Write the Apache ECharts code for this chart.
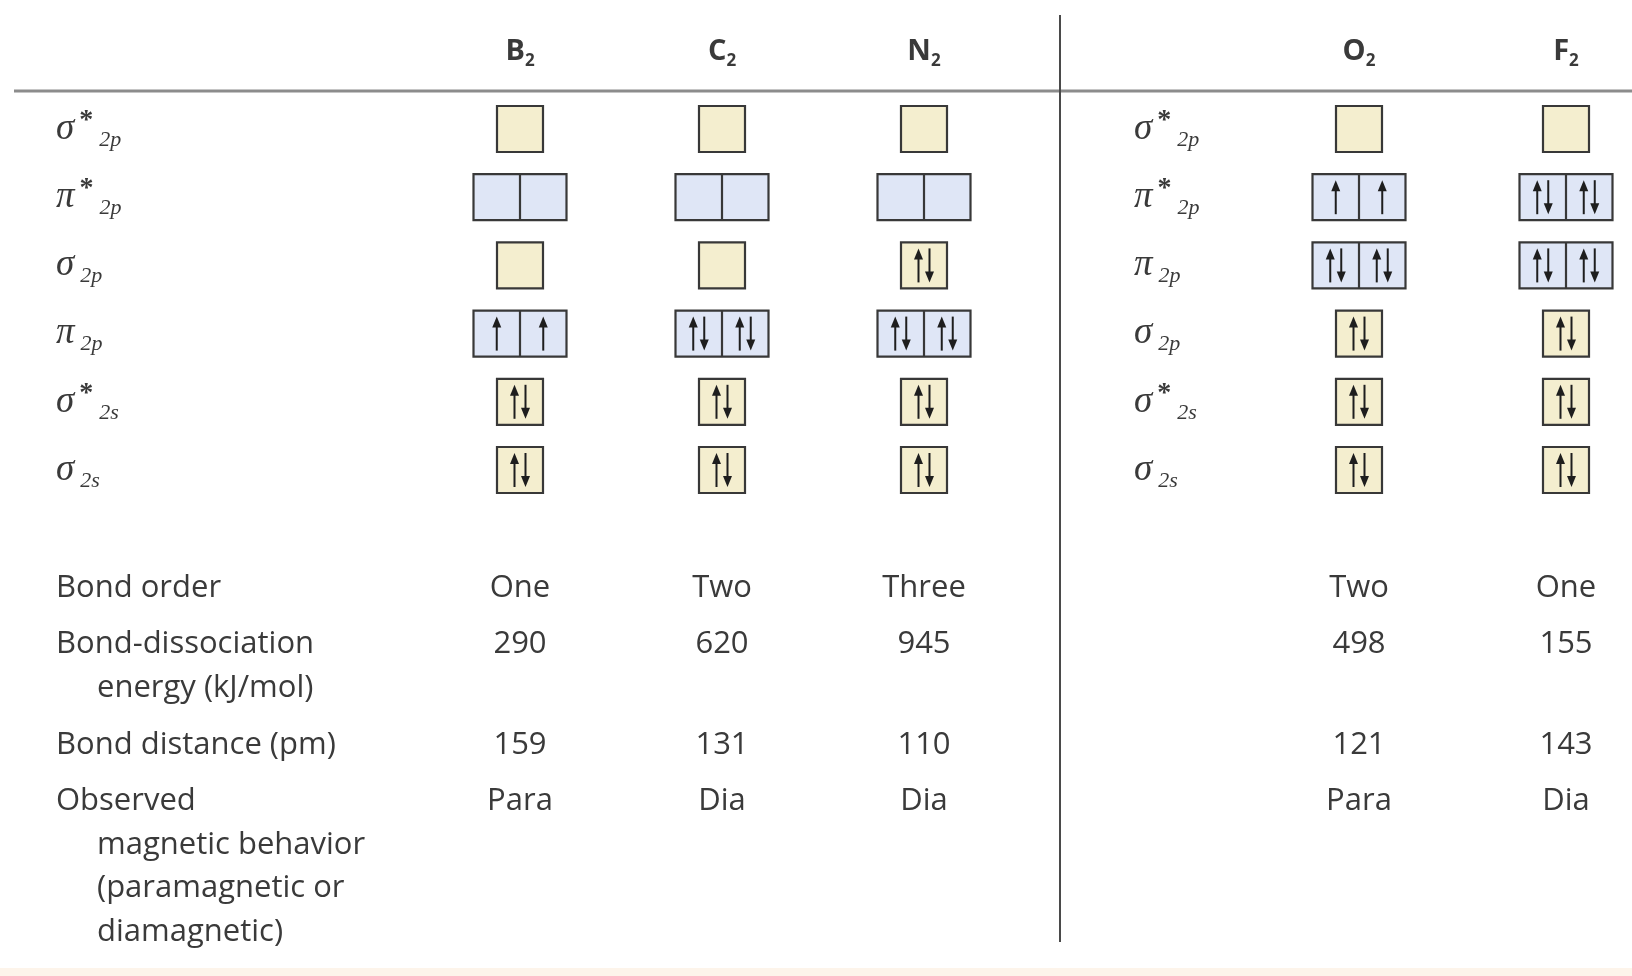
<!DOCTYPE html>
<html><head><meta charset="utf-8">
<script src="https://cdn.jsdelivr.net/npm/echarts@6/dist/echarts.min.js"></script>
<style>html,body{margin:0;padding:0;background:#fff}#c{width:1632px;height:976px}</style>
</head><body><div id="c"></div>
<script>
// ---------- data ----------
const moleculesLeft = ['B2', 'C2', 'N2'];
const moleculesRight = ['O2', 'F2'];
const orbitalsLeft = ['σ*2p', 'π*2p', 'σ2p', 'π2p', 'σ*2s', 'σ2s'];
const orbitalsRight = ['σ*2p', 'π*2p', 'π2p', 'σ2p', 'σ*2s', 'σ2s'];
const degeneracyLeft = [1, 2, 1, 2, 1, 1];
const degeneracyRight = [1, 2, 2, 1, 1, 1];
// electrons per orbital level, in the row order above
const electronsB2 = [0, 0, 0, 2, 2, 2];
const electronsC2 = [0, 0, 0, 4, 2, 2];
const electronsN2 = [0, 0, 2, 4, 2, 2];
const electronsO2 = [0, 2, 4, 2, 2, 2];
const electronsF2 = [0, 4, 4, 2, 2, 2];
const propertyLabels = [
  ['Bond order'],
  ['Bond-dissociation', 'energy (kJ/mol)'],
  ['Bond distance (pm)'],
  ['Observed', 'magnetic behavior', '(paramagnetic or', 'diamagnetic)']
];
const bondOrderLeft = ['One', 'Two', 'Three'];
const bondOrderRight = ['Two', 'One'];
const energyLeft = [290, 620, 945];
const energyRight = [498, 155];
const distanceLeft = [159, 131, 110];
const distanceRight = [121, 143];
const magnetismLeft = ['Para', 'Dia', 'Dia'];
const magnetismRight = ['Para', 'Dia'];

// ---------- build ----------
const TXT = '#3a3a3a';
const BODY_FONT = '31px "Open Sans"';
const LINE_GAP = 0.3;
const propStarts = [];
(function () { let acc = 0; propertyLabels.forEach(l => { propStarts.push(acc); acc += l.length + LINE_GAP; }); })();
const propMax = propStarts[propStarts.length - 1] + propertyLabels[propertyLabels.length - 1].length - 1;

function boxData(arrays, deg) {
  const out = [];
  arrays.forEach((arr, m) => arr.forEach((e, o) => out.push([m, o, e, deg[o]])));
  return out;
}
function valueData(cols) {
  const pts = [], texts = [];
  cols.forEach((col, k) => col.forEach((v, m) => { pts.push([m, propStarts[k]]); texts.push(String(v)); }));
  return { pts, texts };
}
const valsL = valueData([bondOrderLeft, energyLeft, distanceLeft, magnetismLeft]);
const valsR = valueData([bondOrderRight, energyRight, distanceRight, magnetismRight]);
const labelPts = [], labelTexts = [], labelIndent = [];
propertyLabels.forEach((lines, k) => lines.forEach((t, i) => {
  labelPts.push([0, propStarts[k] + i]); labelTexts.push(t); labelIndent.push(i > 0 ? 1 : 0);
}));

function arrow(children, cx, top, bottom, up) {
  const st = { stroke: '#1e1e1e', lineWidth: 2 };
  if (up) {
    children.push({ type: 'line', shape: { x1: cx, y1: top + 8, x2: cx, y2: bottom }, style: st });
    children.push({ type: 'polygon', shape: { points: [[cx, top], [cx - 4.5, top + 11], [cx + 4.5, top + 11]] }, style: { fill: '#1e1e1e' } });
  } else {
    children.push({ type: 'line', shape: { x1: cx, y1: top, x2: cx, y2: bottom - 8 }, style: st });
    children.push({ type: 'polygon', shape: { points: [[cx, bottom], [cx - 4.5, bottom - 11], [cx + 4.5, bottom - 11]] }, style: { fill: '#1e1e1e' } });
  }
}
function renderOrbital(params, api) {
  const m = api.value(0), o = api.value(1), e = api.value(2), n = api.value(3);
  const c = api.coord([m, o]);
  const cw = n === 1 ? 46 : 46.5, h = 46;
  const w = cw * n, x0 = c[0] - w / 2, y0 = c[1] - h / 2;
  const fill = n === 1 ? '#f4eecf' : '#dfe6f6';
  const children = [{ type: 'rect', shape: { x: x0, y: y0, width: w, height: h }, style: { fill, stroke: '#383838', lineWidth: 2.2 } }];
  for (let i = 1; i < n; i++) children.push({ type: 'line', shape: { x1: x0 + cw * i, y1: y0, x2: x0 + cw * i, y2: y0 + h }, style: { stroke: '#383838', lineWidth: 2.2 } });
  for (let i = 0; i < n; i++) {
    const upE = e > i, downE = e > n + i;
    const cx = x0 + cw * i + cw / 2, top = y0 + 6, bottom = y0 + h - 6;
    if (upE && downE) { arrow(children, cx - 5.5, top, bottom, true); arrow(children, cx + 5.5, top, bottom, false); }
    else if (upE) arrow(children, cx, top, bottom, true);
  }
  return { type: 'group', children };
}
function textRenderer(texts, offsets, indents) {
  return function (params, api) {
    const c = api.coord([api.value(0), api.value(1)]);
    const i = params.dataIndex;
    const x = offsets ? c[0] - offsets.base + (indents[i] ? offsets.indent : 0) : c[0];
    return { type: 'text', style: { text: texts[i], x, y: c[1], fill: TXT, font: BODY_FONT, align: offsets ? 'left' : 'center', verticalAlign: 'middle' } };
  };
}
function orbitalLabel(v) {
  const g = v[0], star = v.indexOf('*') >= 0, sub = v.slice(star ? 2 : 1);
  return star ? `{g|${g}}{st|*}{sb|${sub}}` : `{g|${g}}{sb0|${sub}}`;
}
const orbRich = {
  g: { fontFamily: 'Liberation Serif', fontStyle: 'italic', fontSize: 37, lineHeight: 44, verticalAlign: 'middle', color: TXT },
  st: { fontFamily: 'Liberation Serif', fontWeight: 'bold', fontSize: 28, lineHeight: 26, verticalAlign: 'top', color: TXT, padding: [0, 0, 0, 5] },
  sb: { fontFamily: 'Liberation Serif', fontStyle: 'italic', fontSize: 22, lineHeight: 21, verticalAlign: 'bottom', color: TXT, padding: [0, 0, 0, 6] },
  sb0: { fontFamily: 'Liberation Serif', fontStyle: 'italic', fontSize: 22, lineHeight: 21, verticalAlign: 'bottom', color: TXT, padding: [0, 0, 0, 6] }
};
const headRich = {
  e: { fontFamily: 'Open Sans', fontWeight: 'bold', fontSize: 29, lineHeight: 36, verticalAlign: 'middle', color: TXT },
  s: { fontFamily: 'Open Sans', fontWeight: 'bold', fontSize: 17, lineHeight: 17, verticalAlign: 'bottom', color: TXT }
};
const hidden = { axisLine: { show: false }, axisTick: { show: false }, splitLine: { show: false } };

const ORB_TOP = 129, ORB_H = 341, PROP_TOP = 588, PROP_H = 344;
const L_LEFT = 520, L_W = 404, R_LEFT = 1359, R_W = 207;

const option = {
  animation: false,
  backgroundColor: '#ffffff',
  grid: [
    { left: L_LEFT, width: L_W, top: ORB_TOP, height: ORB_H, outerBoundsMode: 'none' },
    { left: R_LEFT, width: R_W, top: ORB_TOP, height: ORB_H, outerBoundsMode: 'none' },
    { left: L_LEFT, width: L_W, top: PROP_TOP, height: PROP_H, outerBoundsMode: 'none' },
    { left: R_LEFT, width: R_W, top: PROP_TOP, height: PROP_H, outerBoundsMode: 'none' }
  ],
  xAxis: [
    Object.assign({ gridIndex: 0, type: 'category', data: moleculesLeft, boundaryGap: false, position: 'top',
      axisLabel: { margin: 77, verticalAlign: 'middle', formatter: v => `{e|${v[0]}}{s|${v.slice(1)}}`, rich: headRich } }, hidden),
    Object.assign({ gridIndex: 1, type: 'category', data: moleculesRight, boundaryGap: false, position: 'top',
      axisLabel: { margin: 77, verticalAlign: 'middle', formatter: v => `{e|${v[0]}}{s|${v.slice(1)}}`, rich: headRich } }, hidden),
    Object.assign({ gridIndex: 2, type: 'category', data: moleculesLeft, boundaryGap: false, axisLabel: { show: false } }, hidden),
    Object.assign({ gridIndex: 3, type: 'category', data: moleculesRight, boundaryGap: false, axisLabel: { show: false } }, hidden)
  ],
  yAxis: [
    Object.assign({ gridIndex: 0, type: 'category', data: orbitalsLeft, inverse: true, boundaryGap: false,
      axisLabel: { margin: L_LEFT - 56, align: 'left', formatter: orbitalLabel, rich: orbRich } }, hidden),
    Object.assign({ gridIndex: 1, type: 'category', data: orbitalsRight, inverse: true, boundaryGap: false,
      axisLabel: { margin: R_LEFT - 1134, align: 'left', formatter: orbitalLabel, rich: orbRich } }, hidden),
    Object.assign({ gridIndex: 2, type: 'value', min: 0, max: propMax, inverse: true, axisLabel: { show: false } }, hidden),
    Object.assign({ gridIndex: 3, type: 'value', min: 0, max: propMax, inverse: true, axisLabel: { show: false } }, hidden)
  ],
  graphic: [
    { type: 'line', shape: { x1: 14, y1: 91, x2: 1632, y2: 91 }, style: { stroke: '#8c8c8c', lineWidth: 3 } },
    { type: 'line', shape: { x1: 1060, y1: 15, x2: 1060, y2: 942 }, style: { stroke: '#4a4a4a', lineWidth: 2 } },
    { type: 'rect', shape: { x: 0, y: 968, width: 1632, height: 8 }, style: { fill: '#fdf4ea' } }
  ],
  series: [
    { type: 'custom', xAxisIndex: 0, yAxisIndex: 0, clip: false, renderItem: renderOrbital,
      data: boxData([electronsB2, electronsC2, electronsN2], degeneracyLeft) },
    { type: 'custom', xAxisIndex: 1, yAxisIndex: 1, clip: false, renderItem: renderOrbital,
      data: boxData([electronsO2, electronsF2], degeneracyRight) },
    { type: 'custom', xAxisIndex: 2, yAxisIndex: 2, clip: false, renderItem: textRenderer(valsL.texts), data: valsL.pts },
    { type: 'custom', xAxisIndex: 3, yAxisIndex: 3, clip: false, renderItem: textRenderer(valsR.texts), data: valsR.pts },
    { type: 'custom', xAxisIndex: 2, yAxisIndex: 2, clip: false,
      renderItem: textRenderer(labelTexts, { base: L_LEFT - 56, indent: 41 }, labelIndent), data: labelPts }
  ]
};
const chart = echarts.init(document.getElementById('c'), null, { renderer: 'canvas' });
chart.setOption(option);
</script>
</body></html>
